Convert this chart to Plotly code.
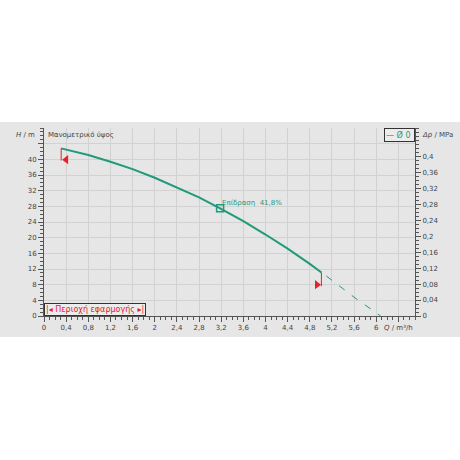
import plotly.graph_objects as go

# Pump curve
q_curve = [0.31, 0.8, 1.2, 1.6, 2.0, 2.4, 2.8, 3.18, 3.6, 4.0, 4.4, 4.8, 5.01]
h_curve = [42.8, 41.1, 39.4, 37.5, 35.3, 32.9, 30.3, 27.5, 24.2, 20.8, 17.2, 13.3, 11.1]
# Extrapolated dashed part
q_dash = [5.1, 5.6, 6.08]
h_dash = [10.2, 4.8, 0.0]
# Operating point
q_op = [3.18]
h_op = [27.5]
op_label = "Επίδραση  41,8%"
# Application range limits
q_lim_start = [0.31, 0.31]
h_lim_start = [42.8, 39.7]
q_lim_end = [5.01, 5.01]
h_lim_end = [11.1, 7.6]
q_tri = [0.40, 4.93]
h_tri = [39.9, 8.0]

x_ticks = [0, 0.4, 0.8, 1.2, 1.6, 2, 2.4, 2.8, 3.2, 3.6, 4, 4.4, 4.8, 5.2, 5.6, 6, 6.4]
x_text = ["0", "0,4", "0,8", "1,2", "1,6", "2", "2,4", "2,8", "3,2", "3,6", "4", "4,4", "4,8", "5,2", "5,6", "6", ""]
y_ticks = [0, 4, 8, 12, 16, 20, 24, 28, 32, 36, 40, 44]
y_text = ["0", "4", "8", "12", "16", "20", "24", "28", "32", "36", "40", ""]
p_ticks = [0, 0.04, 0.08, 0.12, 0.16, 0.2, 0.24, 0.28, 0.32, 0.36, 0.4]
p_text = ["0", "0,04", "0,08", "0,12", "0,16", "0,2", "0,24", "0,28", "0,32", "0,36", "0,4"]

GREEN = "#1f9a7a"
RED = "#e8202a"
AX = "#555555"
TXT = "#444444"
FONT = "DejaVu Sans"
FS = 7

fig = go.Figure()
fig.add_trace(go.Scatter(x=q_curve, y=h_curve, mode="lines",
                         line=dict(color=GREEN, width=2), hoverinfo="skip"))
fig.add_trace(go.Scatter(x=q_dash, y=h_dash, mode="lines",
                         line=dict(color=GREEN, width=1, dash="7px,9px"), hoverinfo="skip"))
fig.add_trace(go.Scatter(x=q_lim_start, y=h_lim_start, mode="lines",
                         line=dict(color=RED, width=1), hoverinfo="skip"))
fig.add_trace(go.Scatter(x=q_lim_end, y=h_lim_end, mode="lines",
                         line=dict(color=RED, width=1), hoverinfo="skip"))
fig.add_trace(go.Scatter(x=q_tri[:1], y=h_tri[:1], mode="markers",
                         marker=dict(symbol="triangle-left", size=8, color=RED), hoverinfo="skip"))
fig.add_trace(go.Scatter(x=q_tri[1:], y=h_tri[1:], mode="markers",
                         marker=dict(symbol="triangle-right", size=8, color=RED), hoverinfo="skip"))
fig.add_trace(go.Scatter(x=q_op, y=h_op, mode="markers",
                         marker=dict(symbol="square-open", size=7, color=GREEN,
                                     line=dict(width=1.5, color=GREEN)), hoverinfo="skip"))
# secondary axis (pressure)
fig.add_trace(go.Scatter(x=[0], y=[0], yaxis="y2", mode="markers",
                         marker=dict(opacity=0), hoverinfo="skip"))

H_MAX = 48
fig.update_layout(
    width=460, height=460,
    margin=dict(l=44, r=45, t=128, b=144),
    paper_bgcolor="white",
    plot_bgcolor="#ececec",
    showlegend=False,
    separators=", ",
    font=dict(family=FONT, size=FS, color=TXT),
    xaxis=dict(range=[0, 6.7], tickvals=x_ticks, ticktext=x_text, automargin=False,
               showgrid=True, gridcolor="#d2d2d2", gridwidth=1,
               zeroline=False, showline=True, linecolor=AX, linewidth=1,
               ticks="outside", ticklen=5, tickcolor=AX,
               minor=dict(dtick=0.1, tick0=0, ticks="outside", ticklen=3, tickcolor=AX, showgrid=False),
               tickfont=dict(size=FS, color=TXT)),
    yaxis=dict(range=[0, H_MAX], tickvals=y_ticks, ticktext=y_text, automargin=False,
               showgrid=True, gridcolor="#d2d2d2", gridwidth=1,
               zeroline=False, showline=True, linecolor=AX, linewidth=1,
               ticks="outside", ticklen=5, tickcolor=AX,
               minor=dict(dtick=1, tick0=0, ticks="outside", ticklen=3, tickcolor=AX, showgrid=False),
               tickfont=dict(size=FS, color=TXT)),
    yaxis2=dict(range=[0, H_MAX * 0.00981], overlaying="y", side="right", automargin=False,
                tickvals=p_ticks, ticktext=p_text, showgrid=False, zeroline=False,
                showline=True, linecolor=AX, linewidth=1,
                ticks="outside", ticklen=5, tickcolor=AX,
                minor=dict(dtick=0.01, tick0=0, ticks="outside", ticklen=3, tickcolor=AX),
                tickfont=dict(size=FS, color=TXT)),
)

# grey background band
fig.add_shape(type="rect", xref="paper", yref="paper",
              x0=-0.13, x1=1.13, y0=-0.112, y1=1.032,
              fillcolor="#e6e6e6", line=dict(width=0), layer="below")

ann = [
    dict(x=0, y=1, xref="paper", yref="paper", xanchor="right", yanchor="middle",
         xshift=-7, yshift=-7, text="<i>H</i> / m", showarrow=False, font=dict(size=FS, color=TXT)),
    dict(x=0, y=1, xref="paper", yref="paper", xanchor="left", yanchor="middle",
         xshift=2, yshift=-7, text="Μανομετρικό ύψος", showarrow=False, font=dict(size=FS, color=TXT)),
    dict(x=1, y=1, xref="paper", yref="paper", xanchor="left", yanchor="middle",
         xshift=5, yshift=-7, text="<i>Δp</i> / MPa", showarrow=False, font=dict(size=FS, color=TXT)),
    dict(x=1, y=0, xref="paper", yref="paper", xanchor="right", yanchor="top",
         yshift=-6, text="<i>Q</i> / m³/h", showarrow=False, font=dict(size=FS, color=TXT)),
    dict(x=q_op[0], y=h_op[0], xref="x", yref="y", xanchor="left", yanchor="bottom",
         xshift=0, yshift=-1, text=op_label, showarrow=False, font=dict(size=FS, color=GREEN)),
    dict(x=1, y=1, xref="paper", yref="paper", xanchor="right", yanchor="top",
         text="— Ø 0 ", showarrow=False, font=dict(size=FS + 1, color=GREEN),
         bordercolor="#333333", borderwidth=1, borderpad=1, bgcolor="#ececec"),
    dict(x=0, y=0, xref="paper", yref="paper", xanchor="left", yanchor="bottom",
         text="|◂ Περιοχή εφαρμογής ▸|", showarrow=False, font=dict(size=FS + 1, color=RED),
         bordercolor="#333333", borderwidth=1, borderpad=1, bgcolor="#ececec"),
]
fig.update_layout(annotations=ann)

fig.write_html("out.html", config={"displayModeBar": False},
               post_script="document.body.style.margin='0';")
